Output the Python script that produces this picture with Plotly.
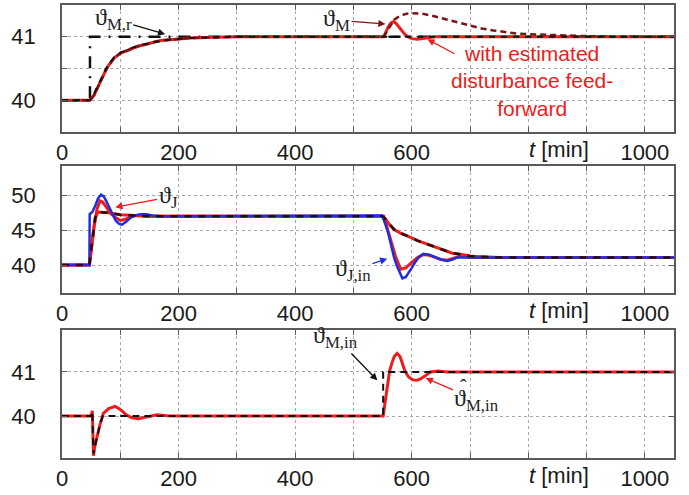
import plotly.graph_objects as go

# ---------------- data ----------------
# Panel 1: mixing temperature theta_M
t_ref = [0, 48, 48, 1050]
m_ref = [40, 40, 41, 41]

t_m = [0, 48, 55, 60, 65, 70, 75, 80, 85, 90, 100, 110, 120, 130, 140, 150, 160, 170, 180,
       190, 200, 220, 250, 300, 400, 500, 552, 556, 560, 565, 569, 573, 578, 583, 588, 593,
       600, 610, 620, 630, 640, 700, 800, 1050]
m_ff = [40, 40, 40.08, 40.18, 40.28, 40.38, 40.47, 40.55, 40.62, 40.67, 40.74, 40.78, 40.82,
        40.85, 40.87, 40.9, 40.92, 40.94, 40.95, 40.96, 40.97, 40.98, 40.99, 41, 41, 41, 41,
        41.08, 41.16, 41.22, 41.24, 41.21, 41.15, 41.09, 41.04, 41.0, 40.97, 40.96, 40.97,
        40.99, 41, 41, 41, 41]

t_mn = [0, 48, 55, 60, 65, 70, 75, 80, 85, 90, 100, 110, 120, 130, 140, 150, 160, 170, 180,
        190, 200, 220, 250, 300, 400, 500, 552, 560, 570, 580, 590, 600, 610, 620, 640, 660,
        680, 700, 720, 740, 760, 780, 800, 850, 900, 950, 1050]
m_noff = [40, 40, 40.08, 40.18, 40.28, 40.38, 40.47, 40.55, 40.62, 40.67, 40.74, 40.78, 40.82,
          40.85, 40.87, 40.9, 40.92, 40.94, 40.95, 40.96, 40.97, 40.98, 40.99, 41, 41, 41, 41,
          41.12, 41.27, 41.33, 41.36, 41.37, 41.37, 41.36, 41.32, 41.27, 41.22, 41.17, 41.13,
          41.1, 41.07, 41.05, 41.04, 41.02, 41.01, 41, 41]

t_mm = [0, 48, 55, 60, 65, 70, 75, 80, 85, 90, 100, 110, 120, 130, 140, 150, 160, 170, 180,
        190, 200, 220, 250, 300, 1050]
m_model = [40, 40, 40.1, 40.2, 40.3, 40.4, 40.49, 40.57, 40.63, 40.68, 40.75, 40.79, 40.83,
           40.86, 40.88, 40.9, 40.92, 40.94, 40.95, 40.96, 40.97, 40.98, 40.99, 41, 41]

# Panel 2: jacket temperatures theta_J
t_ji = [0, 47, 47.5, 52, 57, 62, 67, 72, 78, 85, 92, 98, 103, 110, 118, 125, 135, 145, 155,
        170, 549, 555, 560, 565, 570, 575, 580, 584, 590, 595, 600, 605, 610, 615, 620, 630,
        640, 650, 661, 670, 678, 690, 1050]
j_in = [40, 40, 47.3, 47.6, 48.5, 49.6, 50.1, 49.8, 48.8, 47.5, 46.4, 45.9, 45.8, 46.2, 46.8,
        47.1, 47.3, 47.3, 47.1, 47.0, 47.1, 45.8, 44.5, 42.7, 41.0, 39.8, 38.7, 38.1, 38.3,
        38.9, 39.6, 40.3, 40.9, 41.3, 41.6, 41.5, 41.2, 40.8, 40.6, 40.8, 41.1, 41.1, 41.1]

t_jf = [0, 47, 50, 55, 60, 65, 70, 78, 85, 92, 100, 110, 120, 130, 150, 552, 558, 565, 572,
        581, 590, 600, 610, 620, 630, 640, 650, 661, 672, 684, 700, 1050]
j_ff = [40, 40, 42, 45.5, 48, 49.2, 49.0, 48, 47.3, 46.8, 46.4, 46.6, 47.0, 47.1, 47.0, 47.0,
        45.4, 43.3, 41.3, 39.4, 39.6, 40.4, 41.1, 41.5, 41.4, 41.1, 40.8, 40.7, 41.0, 41.3,
        41.1, 41.1]

t_jn = [0, 47, 52, 57, 62, 70, 80, 100, 150, 550, 555, 560, 565, 570, 580, 590, 600, 610,
        620, 630, 640, 650, 660, 670, 680, 690, 700, 720, 750, 1050]
j_noff = [40, 40, 43.5, 46.8, 47.6, 47.6, 47.5, 47.2, 47.0, 47.0, 46.6, 46.0, 45.5, 45.1,
          44.6, 44.3, 43.9, 43.5, 43.2, 42.8, 42.5, 42.2, 41.9, 41.7, 41.6, 41.4, 41.3, 41.2,
          41.1, 41.1]

# Panel 3: inflow mixing temperature theta_M,in
t_mi = [0, 50, 52, 53, 54, 56, 60, 65, 71, 80, 91, 100, 111, 120, 131, 145, 163, 180, 200,
        551, 553, 556, 559, 562, 566, 570, 575, 580, 585, 589, 595, 602, 609, 615, 622, 632,
        645, 660, 1050]
mi_hat = [40, 40, 40.12, 39.6, 39.1, 39.3, 39.55, 39.8, 40.06, 40.17, 40.22, 40.15, 40.02,
          39.96, 39.94, 39.98, 40.03, 40.01, 40, 40, 40.2, 40.55, 40.85, 41.02, 41.2, 41.35,
          41.42, 41.35, 41.15, 41.0, 40.88, 40.82, 40.81, 40.84, 40.9, 41.0, 41.02, 41.0, 41]

t_mm2 = [0, 50, 52, 54, 58, 62, 66, 70, 551, 551, 1050]
mi_meas = [40, 40, 40.1, 39.15, 39.4, 39.65, 39.85, 40.0, 40, 41, 41]

# axis ticks
x_ticks = [0, 100, 200, 300, 400, 500, 600, 700, 800, 900, 1000]
x_ticklabels = ["0", "", "200", "", "400", "", "600", "", "", "", "1000"]
y1_ticks = [40, 40.5, 41]
y1_labels = ["40", "", "41"]
y2_ticks = [40, 45, 50]
y2_labels = ["40", "45", "50"]
y3_ticks = [40, 41]
y3_labels = ["40", "41"]

# ---------------- styling ----------------
RED = "#ee1c1c"
DRED = "#7a1616"
BLUE = "#1f2fe0"
BLK = "#111111"
SERIF = "Liberation Serif, Times New Roman, serif"
SANS = "Liberation Sans, Arial, sans-serif"

fig = go.Figure()

def tr(x, y, xa, ya, color, width, dash="solid"):
    fig.add_trace(go.Scatter(x=x, y=y, xaxis=xa, yaxis=ya, mode="lines",
                             line=dict(color=color, width=width, dash=dash),
                             showlegend=False, hoverinfo="skip"))

# panel 1
tr(t_ref, m_ref, "x", "y", BLK, 2.5, "12px,8px,2px,8px")
tr(t_m, m_ff, "x", "y", RED, 3)
tr(t_mn, m_noff, "x", "y", DRED, 2.5, "6px,4px")
tr(t_mm, m_model, "x", "y", BLK, 2, "6px,6px")
# panel 2
tr(t_jn, j_noff, "x2", "y2", RED, 3)
tr(t_jf, j_ff, "x2", "y2", RED, 3)
tr(t_ji, j_in, "x2", "y2", BLUE, 2.5)
tr(t_jn, j_noff, "x2", "y2", "#2a0a0a", 2.5, "7px,7px")
# panel 3
tr(t_mi, mi_hat, "x3", "y3", RED, 3)
tr(t_mm2, mi_meas, "x3", "y3", BLK, 2, "7px,5px")

# ---------------- layout ----------------
H = 495
top, bot = 5, 37
ph = H - top - bot
def dom(y0, y1):
    return [1 - (y1 - top) / ph, 1 - (y0 - top) / ph]

common_x = dict(range=[0, 1050], tickvals=x_ticks, ticktext=x_ticklabels, automargin=False,
                showgrid=True, gridcolor="#a8a8a8", griddash="dot", gridwidth=1,
                showline=True, linecolor="#5a5a5a", linewidth=1.5, mirror="ticks",
                ticks="inside", ticklen=5, tickcolor="#5a5a5a", zeroline=False,
                tickfont=dict(family=SANS, size=22, color="#1a1a1a"))
common_y = dict(showgrid=True, gridcolor="#a8a8a8", griddash="dot", gridwidth=1,
                showline=True, linecolor="#5a5a5a", linewidth=1.5, mirror="ticks",
                ticks="inside", ticklen=5, tickcolor="#5a5a5a", zeroline=False,
                ticklabelstandoff=20, automargin=False,
                tickfont=dict(family=SANS, size=22, color="#1a1a1a"))

fig.update_layout(
    width=689, height=495, plot_bgcolor="white", paper_bgcolor="white",
    margin=dict(l=62, r=15, t=top, b=bot, autoexpand=False),
    xaxis=dict(common_x, domain=[0, 1], anchor="y"),
    yaxis=dict(common_y, domain=dom(5, 132), range=[39.5, 41.5], tickvals=y1_ticks,
               ticktext=y1_labels, anchor="x"),
    xaxis2=dict(common_x, domain=[0, 1], anchor="y2"),
    yaxis2=dict(common_y, domain=dom(166, 293), range=[36, 54.2], tickvals=y2_ticks,
                ticktext=y2_labels, anchor="x2"),
    xaxis3=dict(common_x, domain=[0, 1], anchor="y3"),
    yaxis3=dict(common_y, domain=dom(330, 458), range=[39.05, 41.95], tickvals=y3_ticks,
                ticktext=y3_labels, anchor="x3"),
)

ann = []
# t [min] labels
for xa, ya in (("x", "y"), ("x2", "y2"), ("x3", "y3")):
    ann.append(dict(x=852, y=0, xref=xa, yref=ya + " domain", yanchor="top", yshift=-3,
                    text="<i>t</i> [min]", showarrow=False,
                    font=dict(family=SANS, size=22, color="#1a1a1a")))

def arrow(text, xa, ya, hx, hy, tx, ty, color, tcolor="#222", size=24):
    ann.append(dict(x=hx, y=hy, xref=xa, yref=ya, ax=tx, ay=ty, axref=xa, ayref=ya,
                    text=text, showarrow=True, arrowhead=2, arrowsize=1.1, arrowwidth=1.3,
                    arrowcolor=color, font=dict(family=SERIF, size=size, color=tcolor)))

arrow("ϑ<sub>M,r</sub>", "x", "y", 177, 41.04, 88, 41.28, BLK)
arrow("ϑ<sub>M</sub>", "x", "y", 555, 41.2, 471, 41.26, DRED)
arrow("", "x", "y", 627, 40.96, 676, 40.72, RED)
ann.append(dict(x=807, y=40.3, xref="x", yref="y", showarrow=False,
                text="with estimated<br>disturbance feed-<br>forward",
                font=dict(family=SANS, size=21, color=RED)))
arrow("ϑ<sub>J</sub>", "x2", "y2", 91.5, 48.3, 182, 49.7, RED)
arrow("ϑ<sub>J,in</sub>", "x2", "y2", 558, 40.9, 499, 39.3, BLUE)
arrow("ϑ<sub>M,in</sub>", "x3", "y3", 541, 40.81, 469, 41.79, BLK)
arrow("ϑ<sub>M,in</sub>", "x3", "y3", 624, 40.86, 712, 40.36, RED)
# hat over the estimated theta
ann.append(dict(x=688, y=40.36, xref="x3", yref="y3", text="ˆ", showarrow=False,
                yshift=13, font=dict(family=SERIF, size=20, color="#222")))

fig.update_layout(annotations=ann)
fig.write_html("out.html", post_script="document.body.style.margin='0';",
               config={"displayModeBar": False})
